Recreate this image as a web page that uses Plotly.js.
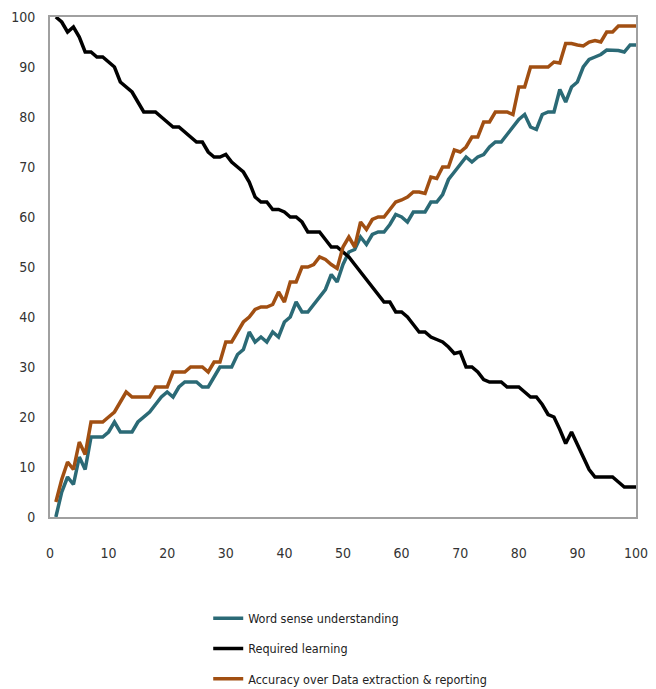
<!DOCTYPE html>
<html>
<head>
<meta charset="utf-8">
<script src="https://cdn.plot.ly/plotly-3.0.1.min.js"></script>
<style>
html,body{margin:0;padding:0;background:#fff;}
#chart{width:656px;height:689px;}
</style>
</head>
<body>
<div id="chart"></div>
<script>
var xValues = [1,2,3,4,5,6,7,8,9,10,11,12,13,14,15,16,17,18,19,20,
  21,22,23,24,25,26,27,28,29,30,31,32,33,34,35,36,37,38,39,40,
  41,42,43,44,45,46,47,48,49,50,51,52,53,54,55,56,57,58,59,60,
  61,62,63,64,65,66,67,68,69,70,71,72,73,74,75,76,77,78,79,80,
  81,82,83,84,85,86,87,88,89,90,91,92,93,94,95,96,97,98,99,100];

var wordSense = [0,5,8,6.5,12,9.5,16,16,16,17,
  19,17,17,17,19,20,21,22.5,24,25,
  24,26,27,27,27,26,26,28,30,30,
  30,32.5,33.5,37,35,36,35,37,36,39,
  40,43,41,41,42.5,44,45.5,48.5,47,50.5,
  53,53.5,56,54.5,56.5,57,57,58.5,60.5,60,
  59,61,61,61,63,63,64.5,67.5,69,70.5,
  72,71,72,72.5,74,75,75,76.5,78,79.5,
  80.5,78,77.5,80.5,81,81,85.5,83,86,87,
  90,91.5,92,92.5,93.4,93.4,93.3,93,94.4,94.4];

var requiredLearning = [100,99,97,98,96,93,93,92,92,91,
  90,87,86,85,83,81,81,81,80,79,
  78,78,77,76,75,75,73,72,72,72.5,
  71,70,69,67,64,63,63,61.5,61.5,61,
  60,60,59,57,57,57,55.5,54,54,53,
  52,50.5,49,47.5,46,44.5,43,43,41,41,
  40,38.5,37,37,36,35.5,35,34,32.7,33,
  30,30,29,27.5,27,27,27,26,26,26,
  25,24,24,22.5,20.5,20,17.5,14.7,17,14.5,
  12,9.5,8,8,8,8,7,6,6,6];

var accuracy = [3,7.5,11,9.5,15,12.5,19,19,19,20,
  21,23,25,24,24,24,24,26,26,26,
  29,29,29,30,30,30,29,31,31,35,
  35,37,39,40,41.5,42,42,42.5,45,43,
  47,47,50,50,50.5,52,51.5,50.5,49.7,54,
  56,54,59,57.5,59.5,60,60,61.5,63,63.4,
  64,65,65,64.7,68,67.7,70,70,73.4,73,
  74,76,76,79,79,81,81,81,80.5,86,
  86,90,90,90,90,91,90.8,94.7,94.7,94.4,
  94.2,95,95.3,95,97,97,98.2,98.2,98.2,98.2];

var seriesNames = ["Word sense understanding", "Required learning", "Accuracy over Data extraction &amp; reporting"];
var xTicks = [0,10,20,30,40,50,60,70,80,90,100];
var yTicks = [0,10,20,30,40,50,60,70,80,90,100];

var fontFam = "'DejaVu Sans Condensed', 'Liberation Sans Narrow', 'Liberation Sans', sans-serif";

var traces = [
  {x: xValues, y: wordSense, name: seriesNames[0], mode: 'lines', legendgroup: 'a',
   line: {color: '#2b6a76', width: 3.5}},
  {x: xValues, y: requiredLearning, name: seriesNames[1], mode: 'lines', legendgroup: 'b',
   line: {color: '#000000', width: 3.5}},
  {x: xValues, y: accuracy, name: seriesNames[2], mode: 'lines', legendgroup: 'c',
   line: {color: '#a14f12', width: 3.5}}
];

var layout = {
  width: 656, height: 689,
  margin: {l: 50, r: 20, t: 17, b: 172, autoexpand: false},
  paper_bgcolor: '#ffffff', plot_bgcolor: '#ffffff',
  font: {family: fontFam, size: 14, color: '#333333'},
  showlegend: true,
  legend: {x: 0.27, xanchor: 'left', y: -0.173, yanchor: 'top', orientation: 'v',
    tracegroupgap: 11, font: {family: fontFam, size: 12.5, color: '#222222'},
    bgcolor: 'rgba(0,0,0,0)'},
  xaxis: {range: [0, 100], tickmode: 'array', tickvals: xTicks, ticktext: xTicks.map(String),
    showgrid: false, zeroline: false, showline: true, mirror: true, automargin: false,
    linecolor: '#a0a0a0', linewidth: 2, ticks: 'outside', ticklen: 22,
    tickcolor: 'rgba(0,0,0,0)', tickfont: {family: fontFam, size: 14, color: '#333333'}},
  yaxis: {range: [0, 100], tickmode: 'array', tickvals: yTicks, ticktext: yTicks.map(String),
    showgrid: false, zeroline: false, showline: true, mirror: true, automargin: false,
    linecolor: '#a0a0a0', linewidth: 2, ticks: 'outside', ticklen: 10,
    tickcolor: 'rgba(0,0,0,0)', tickfont: {family: fontFam, size: 14, color: '#333333'}}
};

Plotly.newPlot('chart', traces, layout, {displayModeBar: false, staticPlot: true});
</script>
</body>
</html>
